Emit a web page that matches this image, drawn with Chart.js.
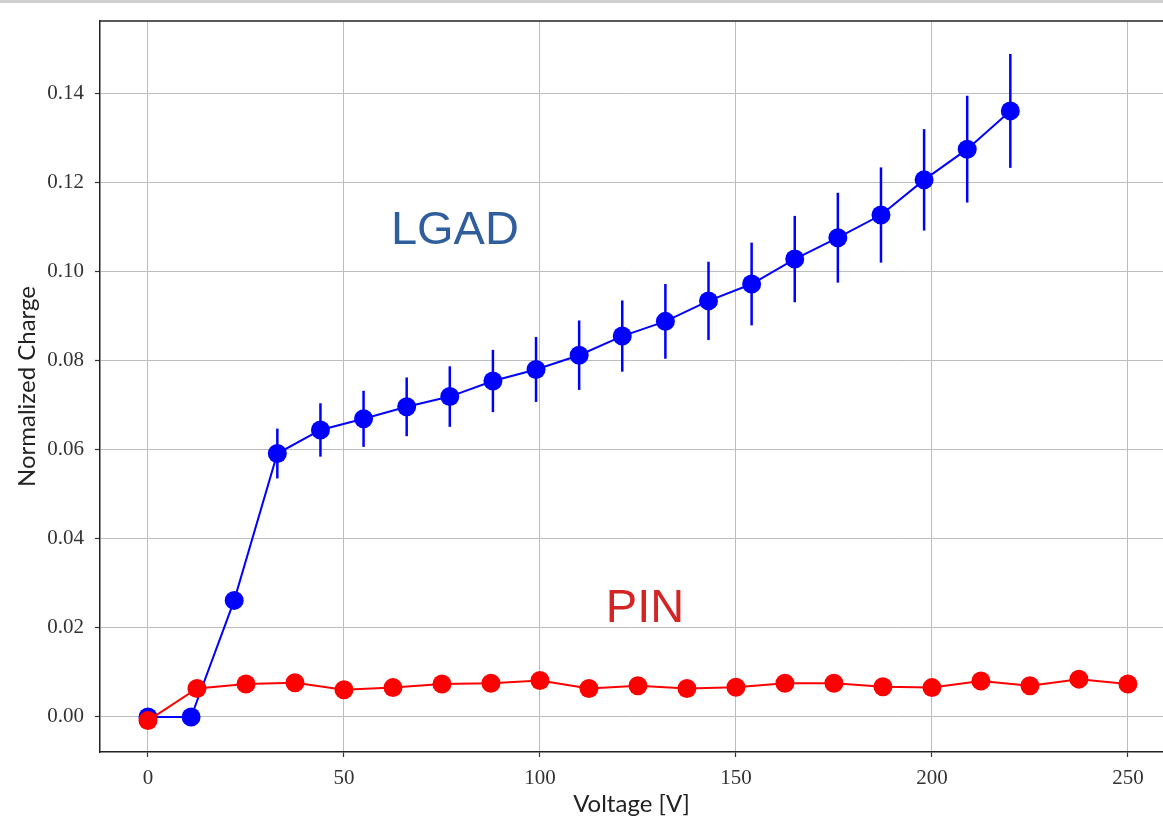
<!DOCTYPE html>
<html>
<head>
<meta charset="utf-8">
<script src="https://cdn.jsdelivr.net/npm/chart.js@4.4.1/dist/chart.umd.min.js"></script>
<style>
  html, body { margin: 0; padding: 0; background: #ffffff; }
  #wrap { position: relative; width: 1163px; height: 833px; overflow: hidden; background: #fff; }
  #topstrip { position: absolute; left: 0; top: 0; width: 1163px; height: 3px; background: #cfcfcf; }
  canvas { position: absolute; left: 0; top: 0; }
</style>
</head>
<body>
<div id="wrap">
  <canvas id="c" width="1163" height="833"></canvas>
  <div id="topstrip"></div>
</div>
<script>
// ---- data ----
const lgadVoltage = [0, 11, 22, 33, 44, 55, 66, 77, 88, 99, 110, 121, 132, 143, 154, 165, 176, 187, 198, 209, 220];
const lgadCharge  = [0.0000, 0.0000, 0.0262, 0.0592, 0.0645, 0.0670, 0.0697, 0.0720, 0.0755, 0.0781, 0.0813,
                     0.0856, 0.0889, 0.0935, 0.0973, 0.1029, 0.1077, 0.1128, 0.1207, 0.1276, 0.1362];
const lgadError   = [0, 0, 0, 0.0056, 0.0060, 0.0063, 0.0066, 0.0068, 0.0070, 0.0073, 0.0078,
                     0.0080, 0.0084, 0.0088, 0.0093, 0.0097, 0.0101, 0.0107, 0.0114, 0.0120, 0.0128];

const pinVoltage = [0, 12.5, 25, 37.5, 50, 62.5, 75, 87.5, 100, 112.5, 125, 137.5, 150, 162.5, 175, 187.5, 200, 212.5, 225, 237.5, 250];
const pinCharge  = [-0.0008, 0.0064, 0.0074, 0.0077, 0.0061, 0.0066, 0.0074, 0.0076, 0.0082, 0.0064, 0.0070,
                    0.0064, 0.0067, 0.0076, 0.0076, 0.0068, 0.0066, 0.0081, 0.0070, 0.0085, 0.0074];

const xTickValues = [0, 50, 100, 150, 200, 250];
const yTickValues = [0.00, 0.02, 0.04, 0.06, 0.08, 0.10, 0.12, 0.14];

const xTitle = 'Voltage [V]';
const yTitle = 'Normalized Charge';
const annotations = [
  { text: 'LGAD', x: 78.3, y: 0.1091, color: '#2e5e9b' },
  { text: 'PIN',  x: 126.8, y: 0.0243, color: '#d42424' }
];

// ---- build chart ----
const toPoints = (xs, ys) => xs.map((x, i) => ({ x: x, y: ys[i] }));

const errorBarPlugin = {
  id: 'errorBars',
  beforeDatasetsDraw(chart) {
    const { ctx, scales: { x, y } } = chart;
    ctx.save();
    ctx.strokeStyle = '#0000ff';
    ctx.lineWidth = 2.5;
    lgadVoltage.forEach((v, i) => {
      const e = lgadError[i];
      if (!e) return;
      const px = x.getPixelForValue(v);
      ctx.beginPath();
      ctx.moveTo(px, y.getPixelForValue(lgadCharge[i] - e));
      ctx.lineTo(px, y.getPixelForValue(lgadCharge[i] + e));
      ctx.stroke();
    });
    ctx.restore();
  }
};

const framePlugin = {
  id: 'frameTop',
  afterDraw(chart) {
    const { ctx, chartArea } = chart;
    ctx.save();
    ctx.strokeStyle = '#222';
    ctx.lineWidth = 1.5;
    ctx.beginPath();
    ctx.moveTo(chartArea.left, chartArea.top);
    ctx.lineTo(chartArea.right, chartArea.top);
    ctx.stroke();
    ctx.restore();
  }
};

const labelPlugin = {
  id: 'textLabels',
  afterDraw(chart) {
    const { ctx, scales: { x, y } } = chart;
    ctx.save();
    ctx.font = '47px "Liberation Sans", Arial, sans-serif';
    ctx.textAlign = 'center';
    ctx.textBaseline = 'middle';
    annotations.forEach(a => {
      ctx.fillStyle = a.color;
      ctx.fillText(a.text, x.getPixelForValue(a.x), y.getPixelForValue(a.y));
    });
    ctx.restore();
  }
};

const tickFont = { family: '"Liberation Serif", "Times New Roman", serif', size: 21 };
const titleFont = { family: 'Lato, "DejaVu Sans", sans-serif', size: 24 };

new Chart(document.getElementById('c'), {
  type: 'line',
  data: {
    datasets: [
      {
        label: 'PIN',
        data: toPoints(pinVoltage, pinCharge),
        borderColor: '#ff0000',
        backgroundColor: '#ff0000',
        borderWidth: 2,
        pointRadius: 9.5,
        pointHoverRadius: 9.5,
        pointBorderWidth: 0,
        tension: 0
      },
      {
        label: 'LGAD',
        data: toPoints(lgadVoltage, lgadCharge),
        borderColor: '#0000ff',
        backgroundColor: '#0000ff',
        borderWidth: 2,
        pointRadius: 9.5,
        pointHoverRadius: 9.5,
        pointBorderWidth: 0,
        tension: 0
      }
    ]
  },
  options: {
    responsive: false,
    devicePixelRatio: 1,
    animation: false,
    layout: { autoPadding: false, padding: { top: 21, right: 0, left: 0, bottom: 0 } },
    plugins: { legend: { display: false }, tooltip: { enabled: false } },
    scales: {
      x: {
        type: 'linear',
        min: -12.24,
        max: 258.95,
        afterBuildTicks: s => { s.ticks = xTickValues.map(v => ({ value: v })); },
        afterFit: s => { s.height = 81; s.paddingLeft = 0; s.paddingRight = 0; },
        ticks: {
          font: tickFont,
          color: '#333',
          padding: 9,
          maxRotation: 0,
          callback: v => String(v)
        },
        grid: { color: '#bdbdbd', lineWidth: 1, tickLength: 5, tickColor: '#333', tickWidth: 1.2 },
        border: { color: '#222', width: 1.5 },
        title: { display: true, text: xTitle, font: titleFont, color: '#222', padding: { top: 0, bottom: 14 } }
      },
      y: {
        type: 'linear',
        min: -0.00787,
        max: 0.1564,
        afterBuildTicks: s => { s.ticks = yTickValues.map(v => ({ value: v })); },
        afterFit: s => { s.width = 100; s.paddingTop = 0; s.paddingBottom = 0; },
        ticks: {
          font: tickFont,
          color: '#333',
          padding: 11,
          callback: v => Number(v).toFixed(2)
        },
        grid: { color: '#bdbdbd', lineWidth: 1, tickLength: 5, tickColor: '#333', tickWidth: 1.2 },
        border: { color: '#222', width: 1.5 },
        title: { display: true, text: yTitle, font: titleFont, color: '#222', padding: { top: 13, bottom: 0 } }
      }
    }
  },
  plugins: [errorBarPlugin, framePlugin, labelPlugin]
});
</script>
</body>
</html>
